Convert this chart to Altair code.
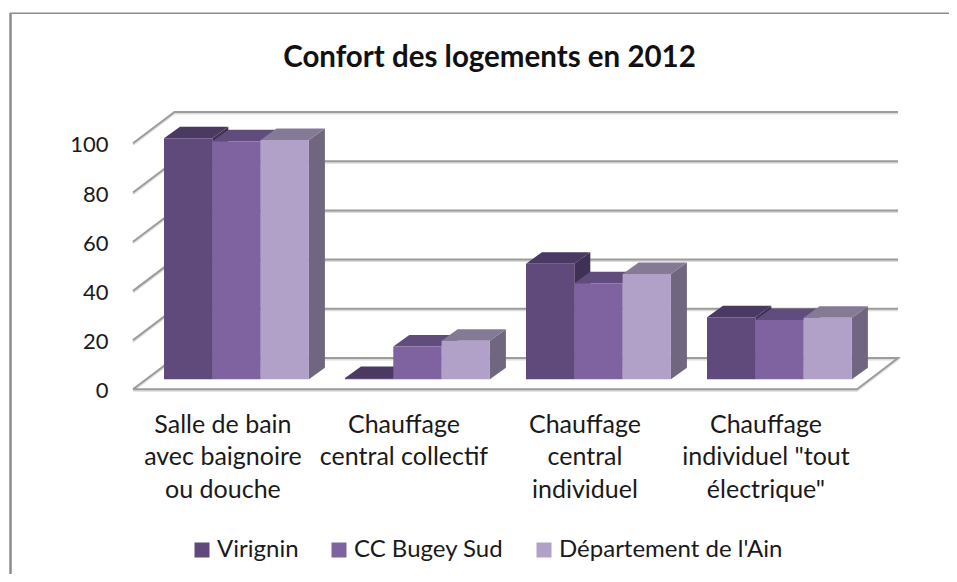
import altair as alt
import pandas as pd

title = "Confort des logements en 2012"
categories = [
    ["Salle de bain", "avec baignoire", "ou douche"],
    ["Chauffage", "central collectif"],
    ["Chauffage", "central", "individuel"],
    ["Chauffage", "individuel \"tout", "électrique\""],
]
series = ["Virignin", "CC Bugey Sud", "Département de l'Ain"]
virignin = [98.0, 0.5, 47.0, 25.2]
bugey = [96.8, 13.3, 39.0, 24.1]
ain = [97.3, 15.7, 42.8, 25.0]
ticks = [0, 20, 40, 60, 80, 100]

front_colors = ["#5f4a7b", "#7f62a0", "#b1a0c7"]
top_colors = ["#4a3a63", "#604c7d", "#847a96"]
side_colors = ["#3f3154", "#56447a", "#70667f"]

# pixel geometry of the plot view
VIEW_L, VIEW_T, VIEW_W, VIEW_H = 110, 100, 800, 300
BAR_PX = 48.3      # bar width in px
UNIT_PX = 2.46     # px per value unit
X0_PX, Y0_PX = 164, 379.3
PERIOD = 181 / BAR_PX
DX = 16 / BAR_PX
DY = 11.5 / UNIT_PX

x_dom = [(VIEW_L - X0_PX) / BAR_PX, (VIEW_L + VIEW_W - X0_PX) / BAR_PX]
y_dom = [(Y0_PX - VIEW_T - VIEW_H) / UNIT_PX, (Y0_PX - VIEW_T) / UNIT_PX]
xs = alt.Scale(domain=x_dom, range=[0, VIEW_W], nice=False, zero=False)
ys = alt.Scale(domain=y_dom, range=[VIEW_H, 0], nice=False, zero=False)

front, top, side = [], [], []
for s, (name, vals) in enumerate(zip(series, [virignin, bugey, ain])):
    for g, v in enumerate(vals):
        l = g * PERIOD + s
        r = l + 1
        bar = f"{g}-{s}"
        front.append(dict(bar=bar, series=name, l=l, r=r, v=v, b=0))
        for x, y, y2 in [(l, v, v), (l + DX, v + DY, v), (r, v + DY, v), (r + DX, v + DY, v + DY)]:
            top.append(dict(bar=bar, x=x, y=y, y2=y2, c=top_colors[s]))
        for x, y, y2 in [(r, v, 0), (r + DX, v + DY, DY)]:
            side.append(dict(bar=bar, x=x, y=y, y2=y2, c=side_colors[s]))

# gridlines: left wall + back wall
FRONT_DX, FRONT_DY = -31 / BAR_PX, -10 / UNIT_PX
BACK_DX, BACK_DY = 10.5 / BAR_PX, 21.3 / UNIT_PX
RIGHT_BACK = (898 - X0_PX) / BAR_PX
RIGHT_FRONT = (857 - X0_PX) / BAR_PX
grid = []
for t in ticks:
    grid.append(dict(t=t, i=0, x=FRONT_DX, y=t + FRONT_DY))
    grid.append(dict(t=t, i=1, x=BACK_DX, y=t + BACK_DY))
    grid.append(dict(t=t, i=2, x=RIGHT_BACK, y=t + BACK_DY))
grid.append(dict(t=0, i=3, x=RIGHT_FRONT, y=FRONT_DY))
grid.append(dict(t=0, i=4, x=FRONT_DX, y=FRONT_DY))

centers = [(g * PERIOD + 1.5) for g in range(4)]
label_expr = f"{categories!r}[round((datum.value - ({centers[0]})) / {PERIOD})]"

x_axis = alt.Axis(
    values=centers, labelExpr=label_expr, title=None, domain=False, ticks=False, grid=False,
    labelFont="Lato", labelFontSize=25, labelColor="#1a1a1a", labelLineHeight=32.5,
    labelPadding=12, labelOffset=-14, labelOverlap=False, labelFlush=False, labelBound=False, labelLimit=400)
y_axis = alt.Axis(
    values=ticks, title=None, domain=False, ticks=False, grid=False,
    labelFont="Lato", labelFontSize=22, labelColor="#1a1a1a",
    labelOffset=11.5, offset=0, labelPadding=2, labelOverlap=False, labelFlush=False, labelBound=False)

X = lambda f: alt.X(f, type="quantitative", scale=xs, axis=x_axis)
Y = lambda f: alt.Y(f, type="quantitative", scale=ys, axis=y_axis, stack=None)

frame_v = alt.Chart(pd.DataFrame({"k": [0]})).mark_rule(color="#8c8c8c", strokeWidth=2.5, clip=False).encode(
    x=alt.value(10.5 - VIEW_L), y=alt.value(13 - VIEW_T), y2=alt.value(582 - VIEW_T))
frame_h = alt.Chart(pd.DataFrame({"k": [0]})).mark_rule(color="#8c8c8c", strokeWidth=1.5, clip=False).encode(
    x=alt.value(10 - VIEW_L), x2=alt.value(957 - VIEW_L), y=alt.value(13.3 - VIEW_T))

grid_shadow = alt.Chart(pd.DataFrame(grid)).mark_line(color="#dcdcdc", strokeWidth=2, yOffset=1.5, clip=False).encode(
    x=X("x"), y=Y("y"), detail="t:N", order="i:Q")
grid_layer = alt.Chart(pd.DataFrame(grid)).mark_line(color="#9c9c9c", strokeWidth=2, clip=False).encode(
    x=X("x"), y=Y("y"), detail="t:N", order="i:Q")

side_layer = alt.Chart(pd.DataFrame(side)).mark_area(orient="vertical", opacity=1).encode(
    x=X("x"), y=Y("y"), y2="y2", detail="bar:N",
    fill=alt.Fill("c:N", scale=None))
top_layer = alt.Chart(pd.DataFrame(top)).mark_area(orient="vertical", opacity=1).encode(
    x=X("x"), y=Y("y"), y2="y2", detail="bar:N",
    fill=alt.Fill("c:N", scale=None))

front_layer = alt.Chart(pd.DataFrame(front)).mark_bar(opacity=1).encode(
    x=X("l"),
    x2="r:Q",
    y=Y("v"),
    y2="b:Q",
    fill=alt.Fill("series:N", scale=alt.Scale(domain=series, range=front_colors), sort=series, legend=alt.Legend(
        title=None, orient="none", legendX=80, legendY=438, direction="horizontal", columns=3,
        symbolType="square", symbolSize=225, symbolStrokeWidth=0, symbolOpacity=1, labelFont="Lato", labelFontSize=24,
        labelColor="#1a1a1a", columnPadding=28, labelOffset=3, labelLimit=400)),
)

chart = alt.layer(frame_v, frame_h, grid_shadow, grid_layer, side_layer, top_layer, front_layer).resolve_scale(fill="independent").properties(
    width=VIEW_W, height=VIEW_H,
    padding={"left": VIEW_L - 8, "top": VIEW_T - 8, "right": 941 - (VIEW_L - 8) - VIEW_W, "bottom": 566 - (VIEW_T - 8) - VIEW_H},
    autosize=alt.AutoSizeParams(type="none"),
    title=alt.TitleParams(title, font="Lato", fontSize=29.5, fontWeight="bold", color="#111111", anchor="middle", offset=-62, dx=-20.5),
).configure_view(stroke=None)

chart.save("out.html", embed_options={"renderer": "svg", "actions": False})
